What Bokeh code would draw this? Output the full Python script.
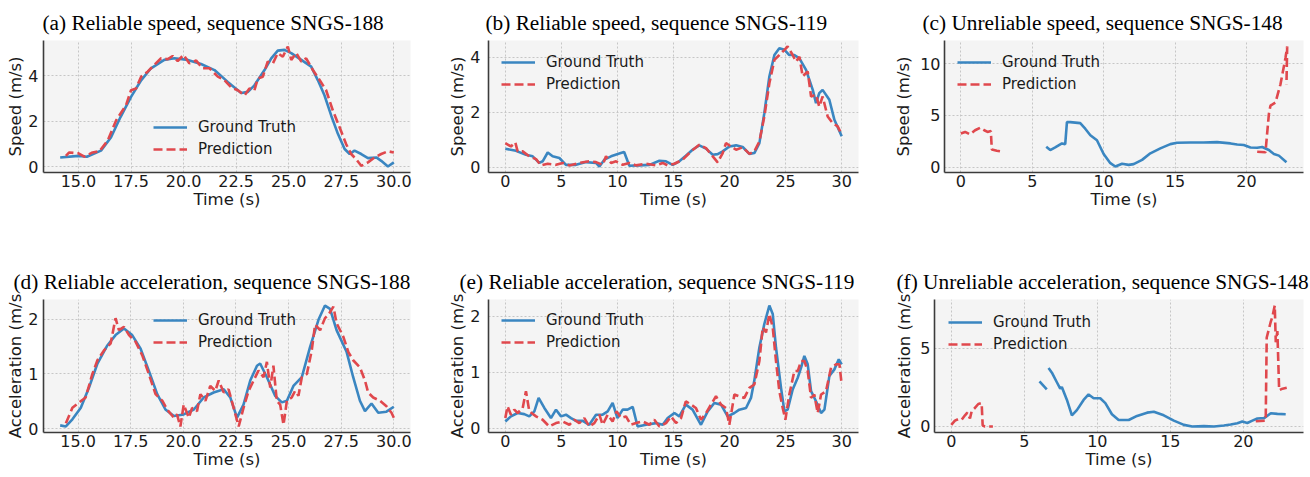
import math
from bokeh.plotting import figure
from bokeh.layouts import row, column
from bokeh.models import Range1d, FixedTicker, PrintfTickFormatter
from bokeh.embed import file_html
from bokeh.resources import INLINE

NaN = float("nan")

# ---------------- data ----------------
titles = [
    "(a) Reliable speed, sequence SNGS-188",
    "(b) Reliable speed, sequence SNGS-119",
    "(c) Unreliable speed, sequence SNGS-148",
    "(d) Reliable acceleration, sequence SNGS-188",
    "(e) Reliable acceleration, sequence SNGS-119",
    "(f) Unreliable acceleration, sequence SNGS-148",
]
x_label = "Time (s)"
y_label_speed = "Speed (m/s)"
y_label_acc = "Acceleration (m/s"
legend_gt = "Ground Truth"
legend_pred = "Prediction"

# (a)
a_gt_t = [14.13, 15.0, 15.4, 16.07, 16.55, 17.0, 17.5, 17.98, 18.45, 19.08, 19.56, 20.2, 20.83, 21.47, 22.1,
          22.74, 23.06, 23.37, 23.85, 24.17, 24.48, 24.8, 25.12, 25.6, 26.07, 26.39, 26.7, 27.02, 27.34, 27.66,
          27.9, 28.13, 28.45, 28.77, 29.17, 29.4, 29.72, 30.0]
a_gt_v = [0.4, 0.47, 0.43, 0.7, 1.29, 2.18, 3.07, 3.8, 4.33, 4.7, 4.77, 4.7, 4.52, 4.25, 3.73,
          3.24, 3.29, 3.58, 4.25, 4.77, 5.11, 5.14, 5.0, 4.7, 4.4, 3.8, 3.14, 2.25, 1.44, 0.77,
          0.55, 0.7, 0.55, 0.37, 0.4, 0.25, 0.0, 0.18]
a_pr_t = [14.4, 14.56, 15.0, 15.28, 15.67, 15.99, 16.39, 16.79, 16.94, 17.26, 17.5, 17.74, 17.98, 18.29, 18.6,
          18.93, 19.25, 19.48, 19.72, 20.0, 20.27, 20.6, 20.9, 21.23, 21.63, 21.94, 22.27, 22.58, 22.9, 23.13,
          23.37, 23.53, 23.77, 24.0, 24.25, 24.48, 24.72, 24.96, 25.12, 25.36, 25.6, 25.83, 26.15, 26.47, 26.78,
          27.1, 27.42, 27.73, 27.97, 28.2, 28.45, 28.77, 29.09, 29.4, 29.72, 30.0]
a_pr_v = [0.47, 0.62, 0.58, 0.43, 0.62, 0.67, 1.14, 2.03, 2.25, 2.7, 3.36, 3.44, 3.96, 4.18, 4.47,
          4.77, 4.73, 4.87, 4.65, 4.92, 4.55, 4.67, 4.33, 4.33, 3.96, 3.81, 3.48, 3.36, 3.14, 3.44,
          3.36, 3.88, 3.96, 4.62, 4.55, 5.0, 4.84, 5.29, 4.7, 5.0, 4.62, 4.77, 4.25, 3.81, 3.36,
          2.47, 1.73, 0.99, 0.55, 0.33, 0.03, 0.18, 0.4, 0.55, 0.67, 0.62]

# (b)
b_gt_t = [0.0, 0.95, 1.84, 2.44, 3.03, 3.33, 3.78, 4.22, 4.82, 5.41, 6.3, 7.2, 8.09, 8.39, 8.83, 9.43, 10.3,
          10.6, 11.06, 11.95, 12.85, 13.74, 14.33, 14.93, 15.52, 16.1, 16.7, 17.3, 17.9, 18.5, 18.94, 19.39,
          19.98, 20.58, 21.17, 21.77, 22.21, 22.66, 23.1, 23.55, 24.0, 24.44, 24.9, 25.33, 25.78, 26.23, 26.82,
          27.42, 27.71, 28.0, 28.3, 28.9, 29.35, 30.0]
b_gt_v = [0.67, 0.59, 0.45, 0.39, 0.15, 0.21, 0.53, 0.39, 0.33, 0.08, 0.08, 0.18, 0.15, 0.02, 0.27, 0.39, 0.51,
          0.55, 0.05, 0.06, 0.08, 0.23, 0.21, 0.08, 0.21, 0.41, 0.63, 0.79, 0.67, 0.45, 0.47, 0.57,
          0.75, 0.79, 0.73, 0.48, 0.51, 0.87, 1.96, 3.3, 4.08, 4.33, 4.27, 4.08, 4.08, 3.96, 3.54,
          2.81, 2.33, 2.69, 2.81, 2.45, 1.72, 1.12]
b_pr_t = [0.0, 0.5, 0.89, 1.1, 1.55, 2.14, 2.74, 3.18, 3.78, 4.52, 5.11, 5.71, 6.6, 7.49, 8.09, 8.68, 8.98,
          9.43, 9.87, 10.47, 11.06, 11.66, 12.55, 13.44, 14.04, 14.48, 15.08, 15.82, 16.56, 17.3, 17.9, 18.5,
          18.94, 19.39, 19.68, 20.13, 20.58, 21.17, 21.77, 22.21, 22.66, 23.1, 23.55, 24.0, 24.44, 24.9, 25.18,
          25.63, 25.93, 26.23, 26.52, 26.97, 27.27, 27.71, 28.0, 28.3, 28.75, 29.2, 29.64, 30.0]
b_pr_v = [0.87, 0.75, 0.9, 0.57, 0.57, 0.39, 0.29, 0.06, 0.12, 0.08, 0.15, 0.06, 0.15, 0.21, 0.18, 0.08, 0.39,
          0.15, 0.21, 0.08, 0.15, 0.06, 0.12, 0.06, 0.15, 0.06, 0.12, 0.27, 0.57, 0.81, 0.69, 0.39,
          0.17, 0.51, 0.87, 0.75, 0.63, 0.72, 0.48, 0.57, 0.93, 1.84, 3.05, 3.9, 4.08, 4.27, 4.39,
          4.08, 3.84, 4.02, 3.3, 3.48, 2.57, 2.63, 2.2, 2.57, 1.84, 1.6, 1.48, 1.18]

# (c)
c_gt_t = [5.98, 6.26, 6.61, 7.08, 7.31, 7.43, 7.66, 8.36, 8.71, 9.07, 9.53, 10.0, 10.47, 10.82, 11.29, 11.75,
          12.1, 12.69, 13.27, 13.97, 14.67, 15.14, 16.07, 17.0, 17.94, 18.88, 19.35, 19.81, 20.28, 20.75,
          21.1, 21.57, 21.92, 22.27, 22.8]
c_gt_v = [1.97, 1.65, 1.9, 2.29, 2.22, 4.35, 4.35, 4.25, 3.71, 3.08, 2.6, 1.27, 0.38, 0.06, 0.32, 0.22,
          0.29, 0.7, 1.33, 1.81, 2.22, 2.35, 2.38, 2.38, 2.41, 2.29, 2.19, 2.13, 1.9, 1.87,
          1.94, 1.65, 1.27, 1.11, 0.48]
c_pr_t = [0.0, 0.3, 0.65, 1.0, 1.36, 1.64, 1.87, 2.1, 2.17, 2.52, 2.9, NaN,
          20.75, 21.33, 21.57, 21.68, 22.03, 22.38, 22.73, 22.85, 22.8]
c_pr_v = [3.24, 3.4, 3.17, 3.56, 3.81, 3.56, 3.4, 3.49, 1.71, 1.59, 1.49, NaN,
          1.49, 1.43, 5.14, 5.94, 6.25, 8.0, 10.54, 11.65, 8.0]

# (d)
d_gt_t = [14.15, 14.42, 14.73, 15.13, 15.52, 15.92, 16.39, 16.78, 17.18, 17.57, 17.97, 18.36, 18.76, 19.15,
          19.55, 20.02, 20.5, 20.97, 21.44, 21.92, 22.23, 22.55, 22.86, 23.18, 23.5, 23.65, 23.97, 24.36,
          24.68, 24.92, 25.23, 25.63, 26.02, 26.42, 26.73, 26.97, 27.28, 27.76, 28.07, 28.39, 28.63, 28.94,
          29.26, 29.65, 30.0]
d_gt_a = [0.06, 0.04, 0.17, 0.38, 0.75, 1.19, 1.52, 1.71, 1.83, 1.71, 1.46, 1.06, 0.63, 0.35,
          0.23, 0.26, 0.35, 0.57, 0.66, 0.72, 0.57, 0.2, 0.44, 0.88, 1.15, 1.19, 0.94, 0.6,
          0.48, 0.51, 0.78, 0.94, 1.49, 1.99, 2.25, 2.19, 1.8, 1.4, 0.94, 0.51, 0.32, 0.46,
          0.29, 0.31, 0.4]
d_pr_t = [14.42, 14.73, 15.05, 15.36, 15.68, 15.92, 16.23, 16.55, 16.78, 16.94, 17.18, 17.42, 17.73, 18.05,
          18.36, 18.68, 19.0, 19.23, 19.55, 19.7, 19.86, 20.02, 20.26, 20.42, 20.65, 20.81, 21.05, 21.28,
          21.52, 21.68, 21.92, 22.15, 22.39, 22.63, 22.86, 23.1, 23.34, 23.57, 23.81, 23.97, 24.13, 24.28,
          24.44, 24.6, 24.76, 24.92, 25.15, 25.31, 25.47, 25.63, 25.87, 26.1, 26.26, 26.5, 26.73, 26.89,
          27.13, 27.28, 27.6, 27.84, 28.07, 28.39, 28.63, 28.78, 29.02, 29.34, 29.65, 29.89, 30.0]
d_pr_a = [0.1, 0.38, 0.48, 0.57, 1.0, 1.25, 1.43, 1.56, 2.02, 1.8, 1.86, 1.71, 1.59, 1.34,
          1.0, 0.63, 0.51, 0.35, 0.2, 0.26, 0.04, 0.44, 0.2, 0.38, 0.32, 0.63, 0.51, 0.78,
          0.69, 0.88, 0.66, 0.72, 0.38, 0.04, 0.38, 0.69, 0.88, 1.06, 0.94, 1.22, 0.75, 1.15,
          0.51, 0.44, 0.07, 0.51, 0.57, 0.69, 0.6, 0.94, 1.0, 1.43, 1.9, 1.8, 2.02, 2.08,
          2.23, 1.93, 1.68, 1.4, 1.25, 1.12, 0.88, 0.66, 0.57, 0.51, 0.41, 0.29, 0.2]

# (e)
e_gt_t = [0.0, 0.5, 1.1, 1.69, 2.14, 2.59, 2.97, 3.48, 4.07, 4.52, 4.97, 5.41, 5.86, 6.3, 6.9, 7.49, 8.09,
          8.68, 9.13, 9.57, 10.0, 10.47, 10.9, 11.36, 11.8, 12.55, 13.44, 14.04, 14.48, 15.08, 15.52, 16.1,
          16.7, 17.45, 18.05, 18.64, 19.24, 19.83, 20.43, 20.87, 21.47, 21.91, 22.2, 22.66, 23.1, 23.55,
          23.85, 24.14, 24.59, 24.89, 25.18, 25.63, 26.08, 26.38, 26.67, 26.97, 27.27, 27.71, 28.16, 28.46,
          28.9, 29.35, 29.74, 30.0]
e_gt_a = [0.12, 0.21, 0.27, 0.25, 0.21, 0.3, 0.54, 0.36, 0.18, 0.33, 0.21, 0.24, 0.18, 0.13, 0.13, 0.06, 0.24,
          0.24, 0.3, 0.45, 0.18, 0.33, 0.33, 0.38, 0.03, 0.06, 0.09, 0.06, 0.18, 0.27, 0.21, 0.42,
          0.33, 0.06, 0.3, 0.45, 0.42, 0.21, 0.27, 0.33, 0.36, 0.54, 0.84, 1.44, 1.86, 2.19,
          2.04, 1.44, 0.72, 0.3, 0.33, 0.69, 0.9, 1.08, 1.29, 1.14, 0.66, 0.48, 0.27, 0.33,
          0.93, 1.05, 1.23, 1.14]
e_pr_t = [0.0, 0.2, 0.5, 0.8, 1.1, 1.55, 1.84, 2.14, 2.74, 3.33, 3.92, 4.52, 5.11, 5.71, 6.16, 6.6, 7.05,
          7.49, 7.94, 8.39, 8.68, 9.13, 9.57, 9.93, 10.32, 10.76, 11.2, 11.66, 12.25, 12.85, 13.29, 13.74,
          14.33, 14.78, 15.22, 15.67, 16.1, 16.56, 17.0, 17.45, 17.9, 18.34, 18.79, 19.24, 19.68, 19.98,
          20.43, 20.87, 21.32, 21.77, 22.21, 22.66, 22.96, 23.25, 23.55, 23.85, 24.14, 24.44, 24.74, 24.98,
          25.33, 25.78, 26.08, 26.38, 26.67, 26.97, 27.27, 27.56, 27.86, 28.16, 28.6, 29.05, 29.5, 29.8, 30.0]
e_pr_a = [0.18, 0.39, 0.24, 0.33, 0.27, 0.36, 0.66, 0.3, 0.21, 0.15, 0.03, 0.09, 0.12, 0.06, 0.15, 0.09, 0.18,
          0.03, 0.09, 0.24, 0.06, 0.24, 0.12, 0.3, 0.18, 0.21, 0.06, 0.09, 0.12, 0.06, 0.15, 0.03,
          0.09, 0.21, 0.09, 0.18, 0.48, 0.42, 0.36, 0.15, 0.27, 0.42, 0.57, 0.42, 0.36, 0.06,
          0.6, 0.57, 0.54, 0.72, 0.78, 1.2, 1.8, 1.71, 2.04, 1.8, 1.2, 0.66, 0.36, 0.15,
          0.6, 1.02, 1.02, 1.2, 1.2, 1.02, 0.54, 0.6, 0.27, 0.6, 0.66, 1.08, 1.14, 1.14, 0.78]

# (f)
f_gt_t = [6.04, 6.54, NaN, 6.66, 6.89, 7.23, 7.46, 7.57, 7.92, 8.26, 8.6, 9.06, 9.4, 9.75, 10.2, 10.55, 11.0,
          11.46, 12.15, 12.72, 13.41, 13.87, 14.55, 15.24, 15.93, 16.5, 17.3, 17.99, 18.67, 19.13, 19.59,
          19.93, 20.27, 20.62, 20.96, 21.42, 21.88, 22.33, 22.9]
f_gt_a = [2.88, 2.37, NaN, 3.73, 3.43, 2.82, 2.41, 2.51, 1.69, 0.71, 1.04, 1.69, 2.04, 1.8, 1.8, 1.49, 0.78,
          0.41, 0.41, 0.67, 0.88, 0.94, 0.71, 0.37, 0.1, 0.0, 0.02, 0.0, 0.06, 0.12, 0.2,
          0.31, 0.22, 0.37, 0.51, 0.53, 0.84, 0.8, 0.78]
f_pr_t = [0.0, 0.25, 0.48, 0.71, 0.94, 1.1, 1.28, 1.4, 1.62, 1.85, 2.08, 2.15, 2.31, 2.85, NaN,
          20.85, 21.53, 21.6, 21.88, 21.99, 22.15, 22.22, 22.33, 22.45, 22.68, 22.97]
f_pr_a = [0.1, 0.37, 0.47, 0.43, 0.71, 0.88, 0.51, 0.98, 1.18, 1.43, 1.49, 0.06, 0.0, 0.0, NaN,
          0.33, 0.37, 5.67, 6.69, 7.0, 7.71, 5.37, 6.08, 2.31, 2.41, 2.47]

# tick positions
ticks_x_188 = [15, 17.5, 20, 22.5, 25, 27.5, 30]
ticks_x_119 = [0, 5, 10, 15, 20, 25, 30]
ticks_x_148 = [0, 5, 10, 15, 20]
ticks_y_a = [0, 2, 4]
ticks_y_b = [0, 2, 4]
ticks_y_c = [0, 5, 10]
ticks_y_d = [0, 1, 2]
ticks_y_e = [0, 1, 2]
ticks_y_f = [0, 5]

# ---------------- style ----------------
BLUE = "#3a86c1"
RED = "#e0484d"
TXT = "#1a1a1a"


def finite(vals):
    return [v for v in vals if not math.isnan(v)]


def panel(title, gt_t, gt_y, pr_t, pr_y, xticks, yticks, xfmt, ylabel,
          width, height, mb_left, mb_right, mb_top, mb_bottom,
          title_off, tick_sd, lab_sd, leg_xy):
    xs = finite(gt_t) + finite(pr_t)
    ys = finite(gt_y) + finite(pr_y)
    x0, x1 = min(xs), max(xs)
    y0, y1 = min(ys), max(ys)
    px = 0.05 * (x1 - x0)
    py = 0.05 * (y1 - y0)
    p = figure(width=width, height=height, output_backend="svg", toolbar_location=None,
               x_range=Range1d(x0 - px, x1 + px), y_range=Range1d(y0 - py, y1 + py),
               min_border_left=mb_left, min_border_right=mb_right,
               min_border_top=mb_top, min_border_bottom=mb_bottom)
    p.background_fill_color = "#f4f4f4"
    p.border_fill_color = "white"
    p.outline_line_color = None

    p.title.text = title
    p.title.text_font = "Liberation Serif"
    p.title.text_font_size = "21.3px"
    p.title.text_font_style = "normal"
    p.title.text_color = "black"
    p.title.align = "left"
    p.title.offset = title_off
    p.title.standoff = 12

    p.line(gt_t, gt_y, line_color=BLUE, line_width=2.6, legend_label=legend_gt)
    p.line(pr_t, pr_y, line_color=RED, line_width=2.6, line_dash="9 4", legend_label=legend_pred)

    p.xaxis.ticker = FixedTicker(ticks=xticks)
    p.xaxis.formatter = PrintfTickFormatter(format=xfmt)
    p.yaxis.ticker = FixedTicker(ticks=yticks)
    p.xaxis.axis_label = x_label
    p.yaxis.axis_label = ylabel

    for ax in (p.xaxis[0], p.yaxis[0]):
        ax.major_tick_line_color = None
        ax.minor_tick_line_color = None
        ax.major_tick_out = 0
        ax.major_tick_in = 0
        ax.axis_line_color = "#3c3c3c"
        ax.axis_line_width = 1.6
        ax.major_label_text_font = "DejaVu Sans"
        ax.major_label_text_font_size = "16px"
        ax.major_label_text_color = TXT
        ax.axis_label_text_font = "DejaVu Sans"
        ax.axis_label_text_font_size = "16.5px"
        ax.axis_label_text_font_style = "normal"
        ax.axis_label_text_color = TXT
    p.xaxis.major_label_standoff = 2
    p.xaxis.axis_label_standoff = 0
    p.yaxis.major_label_standoff = tick_sd
    p.yaxis.axis_label_standoff = lab_sd

    p.grid.grid_line_color = "#c6c6c6"
    p.grid.grid_line_dash = "2 2"
    p.grid.grid_line_width = 1

    lg = p.legend[0]
    lg.location = leg_xy
    lg.padding = 0
    lg.margin = 0
    lg.spacing = 2
    lg.glyph_width = 34
    lg.glyph_height = 20
    lg.label_height = 20
    lg.label_standoff = 11
    lg.label_text_font = "DejaVu Sans"
    lg.label_text_font_size = "15px"
    lg.label_text_color = TXT
    lg.border_line_alpha = 0
    lg.background_fill_alpha = 0
    return p


H1, H2 = 259, 218
fa = panel(titles[0], a_gt_t, a_gt_v, a_pr_t, a_pr_v, ticks_x_188, ticks_y_a, "%.1f", y_label_speed,
           430, H1, 43, 20, 40, 87, -1, 5, 0, (110, 13))
fb = panel(titles[1], b_gt_t, b_gt_v, b_pr_t, b_pr_v, ticks_x_119, ticks_y_b, "%d", y_label_speed,
           440, H1, 58, 12, 40, 86, -3, 8, 0, (13, 78))
fc = panel(titles[2], c_gt_t, c_gt_v, c_pr_t, c_pr_v, ticks_x_148, ticks_y_c, "%d", y_label_speed,
           440, H1, 74, 7, 40, 87, -22, 4, 4, (13, 78))
fd = panel(titles[3], d_gt_t, d_gt_a, d_pr_t, d_pr_a, ticks_x_188, ticks_y_d, "%.1f", y_label_acc,
           430, H2, 43, 20, 40, 45, -30, 5, 0, (110, 80))
fe = panel(titles[4], e_gt_t, e_gt_a, e_pr_t, e_pr_a, ticks_x_119, ticks_y_e, "%d", y_label_acc,
           440, H2, 58, 12, 40, 45, -29, 8, 0, (13, 80))
ff = panel(titles[5], f_gt_t, f_gt_a, f_pr_t, f_pr_a, ticks_x_148, ticks_y_f, "%d", y_label_acc,
           440, H2, 64, 7, 40, 39, -38, 4, 3, (14, 78))

layout = column(row(fa, fb, fc), row(fd, fe, ff))
open("out.html", "w").write(file_html(layout, INLINE))
